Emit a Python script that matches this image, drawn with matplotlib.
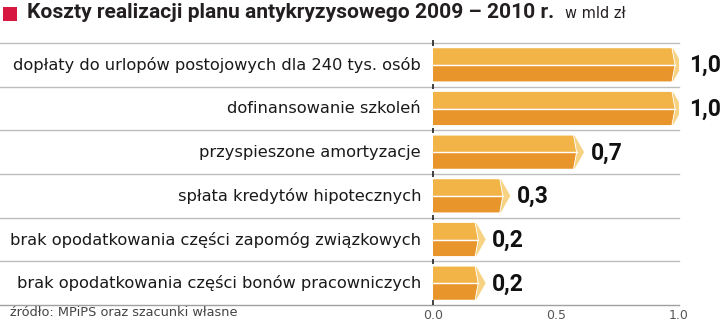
import matplotlib
matplotlib.use("Agg")
import matplotlib.pyplot as plt
from matplotlib.patches import Polygon, Rectangle

# Data (bar lengths, labels as printed)
categories = [
    "dopłaty do urlopów postojowych dla 240 tys. osób",
    "dofinansowanie szkoleń",
    "przyspieszone amortyzacje",
    "spłata kredytów hipotecznych",
    "brak opodatkowania części zapomóg związkowych",
    "brak opodatkowania części bonów pracowniczych",
]
values = [1.0, 1.0, 0.6, 0.3, 0.2, 0.2]
value_labels = ["1,0", "1,0", "0,7", "0,3", "0,2", "0,2"]
xticks = [0.0, 0.5, 1.0]
xtick_labels = ["0.0", "0.5", "1.0"]

title = "Koszty realizacji planu antykryzysowego 2009 \u2013 2010 r."
unit = "w mld zł"
source = "źródło: MPiPS oraz szacunki własne"

# Colours
c_light = "#F2B446"
c_dark = "#E8962B"
c_cap = "#F8D283"
c_grid = "#BDBDBD"

W, H = 720, 323
fig = plt.figure(figsize=(W / 100, H / 100), dpi=100)
x0_px, x1_px = 433, 679
y_top_px, y_bot_px = 43, 305
ax = fig.add_axes([x0_px / W, (H - y_bot_px) / H, (x1_px - x0_px) / W, (y_bot_px - y_top_px) / H])
ax.set_xlim(0, 1)
n = len(categories)
ax.set_ylim(n, 0)
ax.axis("off")

px = 1.0 / (x1_px - x0_px)  # one pixel in data units
left_edge = -x0_px * px
hh = 0.38  # half bar height in row units

# row lines and small ticks at zero
for i in range(n + 1):
    col = c_grid if i < n else "#A0A0A0"
    ax.plot([left_edge, 1.0], [i, i], color=col, lw=1.0, clip_on=False, zorder=1)
    ax.plot([0, 0], [i - 0.06 if i < n else i - 0.12, i + 0.06 if i < n else i],
            color="#222222", lw=1.2, clip_on=False, zorder=2, solid_capstyle="butt")

for i, (cat, v, lab) in enumerate(zip(categories, values, value_labels)):
    yc = i + 0.5
    top, bot = yc - hh, yc + hh
    d = 6 * px
    a = v - 7 * px
    b = 3 * px
    tip = v + 4 * px
    upper = Polygon([(-d, yc), (0, top), (a, top), (a + b, yc)], closed=True,
                    facecolor=c_light, edgecolor="none", zorder=3)
    lower = Polygon([(-d, yc), (a + b, yc), (a, bot), (0, bot)], closed=True,
                    facecolor=c_dark, edgecolor="none", zorder=3)
    cap = Polygon([(a, top), (a + 1.5 * px, top), (tip, yc), (a + 1.5 * px, bot), (a, bot), (a + b, yc)],
                  closed=True, facecolor=c_cap, edgecolor="white", lw=0.6, zorder=4)
    ax.add_patch(upper)
    ax.add_patch(lower)
    ax.add_patch(cap)
    ax.plot([-d + px, a + b], [yc, yc], color="white", lw=1.0, zorder=5)

    ax.text(-12 * px, yc, cat, ha="right", va="center", fontsize=11.7,
            family="DejaVu Sans", color="#1a1a1a", clip_on=False)
    ax.text(tip + 6 * px, yc + 0.02, lab, ha="left", va="center", fontsize=16.5,
            family="Roboto", fontweight="bold", color="#111111", clip_on=False)

for t, tl in zip(xticks, xtick_labels):
    ax.text(t, n + 0.23, tl, ha="center", va="center", fontsize=9,
            family="Liberation Sans Narrow", color="#555555", clip_on=False)

# title block
fig.patches.append(Rectangle((3 / W, 1 - 21 / H), 14 / W, 14 / H, transform=fig.transFigure,
                             facecolor="#D7173F", edgecolor="none"))
fig.text(27 / W, 1 - 13 / H, title, ha="left", va="center", fontsize=15.1,
         family="Roboto", fontweight="bold", color="#231F20")
fig.text(565 / W, 1 - 14 / H, unit, ha="left", va="center", fontsize=10.5,
         family="DejaVu Sans", color="#231F20")
fig.text(10 / W, 1 - 312 / H, source, ha="left", va="center", fontsize=9.3,
         family="Liberation Sans Narrow", color="#444444")

fig.savefig("out.png", dpi=100)
